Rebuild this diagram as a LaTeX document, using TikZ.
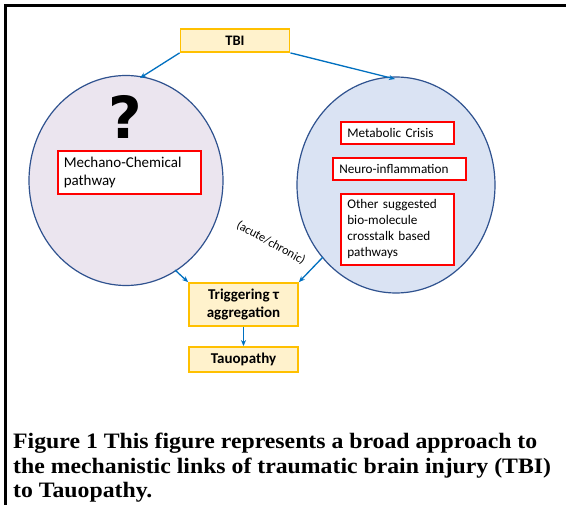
\documentclass[tikz,border=0pt]{standalone}
\usepackage{fontspec}
\setmainfont{Carlito}
\newfontfamily\capfont[FakeStretch=1.08]{Liberation Serif}
\newfontfamily\qfont{DejaVu Sans}
\usetikzlibrary{arrows.meta,shapes.geometric}
\definecolor{arrowblue}{HTML}{0070C0}
\definecolor{circleedge}{HTML}{2F528F}
\definecolor{lavender}{HTML}{EBE5EF}
\definecolor{paleblue}{HTML}{DAE3F3}
\definecolor{yfill}{HTML}{FFF2CC}
\definecolor{yedge}{HTML}{FFC000}
\tikzset{
  ybox/.style={draw=yedge, fill=yfill, line width=1.8pt, align=center, font=\fontsize{15}{17.5}\selectfont\bfseries, inner sep=0pt},
  rbox/.style={draw=red, fill=white, line width=1.6pt, align=left, font=\fontsize{13.2}{16}\selectfont, inner sep=0pt, anchor=north west},
  circ/.style={draw=circleedge, line width=1.2pt, ellipse, inner sep=0pt},
  arr/.style={draw=arrowblue, line width=1.3pt, -{Stealth[length=6pt,width=5pt]}}
}
\begin{document}
\begin{tikzpicture}[x=1pt,y=-1pt]
\useasboundingbox (0,0) rectangle (566,505);
\fill[white] (0,0) rectangle (566,505);
\draw[line width=2.2pt] (5.5,505) -- (5.5,5.5) -- (566,5.5);
% circles
\node[circ, fill=lavender, minimum width=194pt, minimum height=210pt] (lc) at (126,180.5) {};
\node[circ, fill=paleblue, minimum width=198pt, minimum height=216pt] (rc) at (396,185) {};
% TBI
\node[ybox, minimum width=109pt, minimum height=23pt, font=\fontsize{14.5}{16}\selectfont\bfseries] (tbi) at (235,40.5) {TBI};
% question mark
\node[font=\fontsize{58}{58}\selectfont\qfont\bfseries] (q) at (125,117) {?};
% red boxes
\node[rbox, minimum width=143pt, minimum height=43pt, text width=131pt, inner xsep=6pt, font=\fontsize{15}{17.5}\selectfont] (mc) at (57,150) {Mechano-Chemical\\pathway};
\node[rbox, minimum width=113pt, minimum height=22pt, text width=100pt, inner xsep=6.5pt] (mcr) at (340,121) {Metabolic Crisis};
\node[rbox, minimum width=133pt, minimum height=22pt, text width=120pt, inner xsep=6.5pt] (ni) at (332,157) {Neuro-inflammation};
\node[rbox, minimum width=113pt, minimum height=71pt, text width=100pt, inner xsep=6.5pt] (oth) at (340,193) {Other suggested\\bio-molecule\\crosstalk based\\pathways};
% yellow boxes
\node[ybox, minimum width=109pt, minimum height=43pt] (trig) at (243.5,304.5) {Triggering τ\\aggregation};
\node[ybox, minimum width=109pt, minimum height=25pt] (tau) at (243.5,359.5) {Tauopathy};
% label
\node[font=\fontsize{12.3}{14}\selectfont, rotate=-29] (ac) at (271,243) {(acute/chronic)};
% arrow end points on circles
\coordinate (lctop) at (140,78);
\coordinate (rctop) at (395,79);
\coordinate (lcbot) at (175,270);
\coordinate (rcbot) at (323,257);
% arrows
\draw[arr] (tbi.south west) -- (lctop);
\draw[arr] (tbi.south east) -- (rctop);
\draw[arr] (lcbot) -- (trig.north west);
\draw[arr] (rcbot) -- (trig.north east);
\draw[arr] (trig.south) -- (tau.north);
% caption
\node[anchor=base west, inner sep=0pt, align=left, font=\capfont\bfseries\fontsize{22}{25}\selectfont] (cap) at (13,498) {Figure 1 This figure represents a broad approach to\\the mechanistic links of traumatic brain injury (TBI)\\to Tauopathy.};
\end{tikzpicture}
\end{document}
